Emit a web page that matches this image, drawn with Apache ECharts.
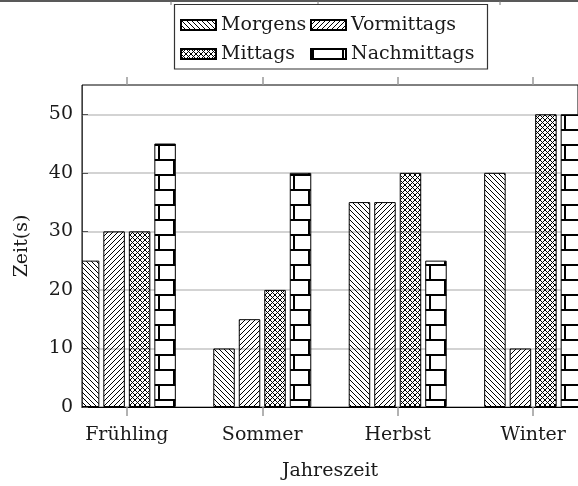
<!DOCTYPE html>
<html>
<head>
<meta charset="utf-8">
<script src="https://cdn.jsdelivr.net/npm/echarts@6/dist/echarts.min.js"></script>
<style>
  html, body { margin: 0; padding: 0; background: #fff; }
  #chart { width: 578px; height: 486px; }
</style>
</head>
<body>
<div id="chart"></div>
<script>
const seasons = ['Frühling', 'Sommer', 'Herbst', 'Winter']
const morgens = [25, 10, 35, 40]
const vormittags = [30, 15, 35, 10]
const mittags = [30, 20, 40, 50]
const nachmittags = [45, 40, 25, 50]
const categoryTicks = [0, 1, 2, 3]

const font = 'DejaVu Serif'
const ink = '#1a1a1a'

// hatch tiles, drawn once on small canvases
function lineTile(dirs) {
  const s = 5
  const c = document.createElement('canvas')
  c.width = s
  c.height = s
  const ctx = c.getContext('2d')
  ctx.strokeStyle = '#000'
  ctx.lineWidth = 1
  for (const d of dirs) {
    for (let k = -1; k <= 1; k++) {
      ctx.beginPath()
      if (d === 'nw') {
        ctx.moveTo(k * s, 0)
        ctx.lineTo(k * s + s, s)
      } else {
        ctx.moveTo(k * s, s)
        ctx.lineTo(k * s + s, 0)
      }
      ctx.stroke()
    }
  }
  return c
}

function brickTile() {
  const c = document.createElement('canvas')
  c.width = 30
  c.height = 30
  const ctx = c.getContext('2d')
  ctx.fillStyle = '#fff'
  ctx.fillRect(0, 0, 30, 30)
  ctx.fillStyle = '#000'
  ctx.fillRect(0, 0, 30, 2)
  ctx.fillRect(0, 15, 30, 2)
  ctx.fillRect(16, 2, 2, 13)
  ctx.fillRect(1, 17, 2, 13)
  return c
}

const nwTile = lineTile(['nw'])
const neTile = lineTile(['ne'])
const crossTile = lineTile(['nw', 'ne'])
const bricks = brickTile()

function pattern(img, x, y) {
  return { image: img, repeat: 'repeat', x: x || 0, y: y || 0 }
}

function barSeries(name, values, fill, itemFills) {
  return {
    name,
    type: 'bar',
    barWidth: 21.5,
    barGap: '18.6%',
    data: values.map((v, i) => ({
      value: [i, v],
      itemStyle: itemFills ? { color: itemFills[i] } : undefined,
    })),
    itemStyle: { color: fill, borderColor: '#000', borderWidth: 1 },
  }
}

const legendBase = {
  orient: 'vertical',
  top: 15,
  padding: 0,
  itemWidth: 35,
  itemHeight: 10,
  itemGap: 9,
  icon: 'rect',
  selectedMode: false,
  textStyle: { fontFamily: font, fontSize: 19, color: ink, lineHeight: 20 },
}

const chart = echarts.init(document.getElementById('chart'))

function buildOption(brickFills) {
  return {
    animation: false,
    grid: {
      left: 82,
      top: 85,
      right: -2,
      bottom: 78,
      show: true,
      borderColor: '#000',
      borderWidth: 1,
    },
    legend: [
      { ...legendBase, data: ['Morgens', 'Mittags'], left: 180 },
      { ...legendBase, data: ['Vormittags', 'Nachmittags'], left: 310 },
    ],
    xAxis: [
      {
        type: 'value',
        min: -0.331,
        max: 3.331,
        name: 'Jahreszeit',
        nameLocation: 'middle',
        nameGap: 55,
        nameTextStyle: { fontFamily: font, fontSize: 19, color: ink },
        axisLine: { show: true, onZero: false, lineStyle: { color: '#000', width: 1 } },
        axisTick: {
          show: true,
          length: 9,
          customValues: categoryTicks,
          lineStyle: { color: '#999', width: 1.5 },
        },
        axisLabel: {
          customValues: categoryTicks,
          formatter: (v) => seasons[Math.round(v)],
          fontFamily: font,
          fontSize: 19,
          color: ink,
          margin: 19,
        },
        splitLine: { show: false },
      },
      {
        type: 'value',
        position: 'top',
        min: -0.331,
        max: 3.331,
        axisLine: { show: false, onZero: false },
        axisTick: {
          show: true,
          length: 8,
          customValues: categoryTicks,
          lineStyle: { color: '#999', width: 1.5 },
        },
        axisLabel: { show: false },
        splitLine: { show: false },
      },
    ],
    yAxis: {
      type: 'value',
      min: 0,
      max: 55,
      interval: 10,
      name: 'Zeit(s)',
      nameLocation: 'middle',
      nameRotate: 90,
      nameGap: 50,
      nameTextStyle: { fontFamily: font, fontSize: 19, color: ink },
      axisLine: { show: false, onZero: false },
      axisTick: { show: true, inside: true, length: 6, lineStyle: { color: '#555' } },
      axisLabel: { fontFamily: font, fontSize: 19, color: ink, margin: 9, showMaxLabel: false },
      splitLine: { showMaxLine: false, lineStyle: { color: '#c4c4c4', width: 1.5 } },
    },
    graphic: [
      {
        type: 'line',
        shape: { x1: 0, y1: 1, x2: 578, y2: 1 },
        style: { stroke: '#222', lineWidth: 1.5 },
      },
      ...[171, 318, 500].map((x) => ({
        type: 'line',
        shape: { x1: x, y1: 1, x2: x, y2: 5 },
        style: { stroke: '#777', lineWidth: 1 },
      })),
      {
        type: 'rect',
        shape: { x: 174.5, y: 4.5, width: 313, height: 64.5 },
        style: { fill: '#fff', stroke: '#333', lineWidth: 1.2 },
      },
      // bars are not clipped on a value axis: hide what spills left of the frame
      {
        type: 'rect',
        z: 10,
        shape: { x: 74, y: 84, width: 8, height: 325 },
        style: { fill: '#fff' },
      },
      {
        type: 'line',
        z: 11,
        shape: { x1: 82, y1: 85, x2: 82, y2: 408 },
        style: { stroke: '#000', lineWidth: 1 },
      },
    ],
    series: [
      barSeries('Morgens', morgens, pattern(nwTile)),
      barSeries('Vormittags', vormittags, pattern(neTile)),
      barSeries('Mittags', mittags, pattern(crossTile)),
      barSeries('Nachmittags', nachmittags, pattern(bricks, 0, 9), brickFills),
    ],
  }
}

chart.setOption(buildOption(null))

// anchor the brick pattern to each category centre, as the bars show it
const brickFills = categoryTicks.map((i) =>
  pattern(bricks, Math.round(chart.convertToPixel({ xAxisIndex: 0 }, i)), 9)
)
chart.setOption(buildOption(brickFills))
</script>
</body>
</html>
